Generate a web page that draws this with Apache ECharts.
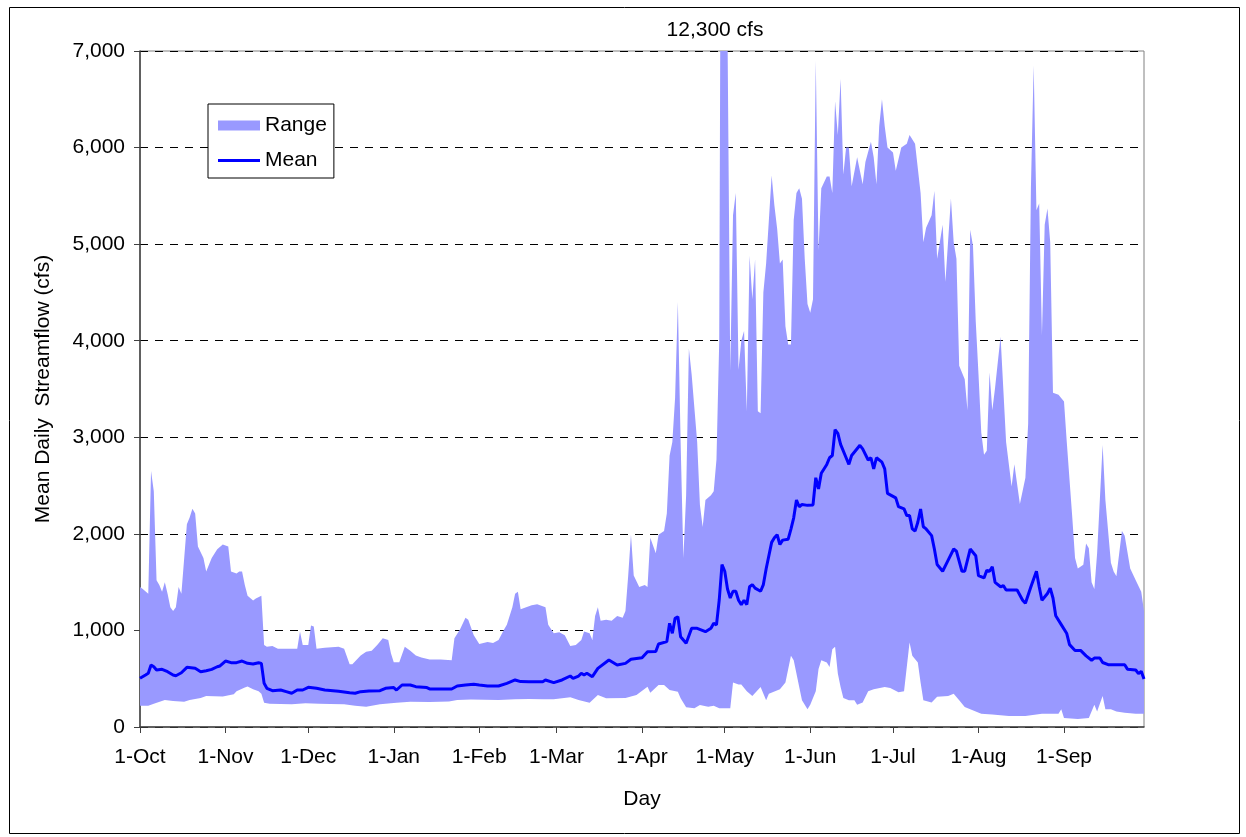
<!DOCTYPE html>
<html>
<head>
<meta charset="utf-8">
<style>
  html, body { margin: 0; padding: 0; background: #fff; }
  #chart { width: 1246px; height: 837px; }
</style>
<script src="https://cdn.jsdelivr.net/npm/echarts@6.0.0/dist/echarts.min.js"></script>
</head>
<body>
<div id="chart"></div>
<script>
// ---- Data (day of water year from 1-Oct, cfs) ----
const monthDays = [0, 31, 61, 92, 123, 151, 182, 212, 243, 273, 304, 335];
const monthLabels = ['1-Oct', '1-Nov', '1-Dec', '1-Jan', '1-Feb', '1-Mar', '1-Apr', '1-May', '1-Jun', '1-Jul', '1-Aug', '1-Sep'];
const yTicks = [0, 1000, 2000, 3000, 4000, 5000, 6000, 7000];

const rangeMax = [[0,1450],[1,1430],[3,1380],[4,2650],[5,2440],[6,1520],[7,1470],[8,1400],[9,1500],[10,1380],[11,1240],[12,1200],[13,1240],[14,1450],[15,1380],[17,2100],[18,2170],[19,2260],[20,2210],[21,1870],[23,1750],[24,1610],[26,1750],[28,1840],[30,1890],[32,1870],[33,1610],[35,1590],[36,1610],[37,1610],[38,1470],[39,1360],[41,1310],[42,1330],[44,1360],[45,850],[46,830],[48,840],[50,810],[57,810],[58,990],[59,850],[61,850],[62,1050],[63,1040],[64,810],[67,820],[72,830],[74,810],[76,650],[77,650],[80,740],[82,780],[84,790],[86,850],[88,920],[90,900],[91,760],[92,670],[94,670],[96,830],[98,790],[100,740],[102,720],[105,700],[109,700],[113,690],[114,920],[116,1010],[118,1130],[119,1110],[121,950],[123,860],[126,880],[128,870],[130,900],[132,1010],[133,1060],[135,1240],[136,1380],[137,1400],[138,1220],[140,1240],[142,1260],[144,1270],[147,1240],[148,1060],[150,970],[152,980],[154,950],[156,840],[158,850],[160,900],[161,990],[163,970],[164,900],[165,1150],[166,1240],[167,1100],[169,1110],[171,1100],[173,1150],[175,1130],[176,1200],[177,1570],[178,1990],[179,1570],[181,1450],[183,1470],[184,1450],[185,1960],[187,1800],[188,1990],[190,2030],[191,2210],[192,2810],[193,2950],[194,3410],[195,4400],[196,2950],[197,1750],[198,2400],[199,3920],[200,3650],[202,2950],[203,2300],[204,2070],[205,2350],[207,2400],[208,2440],[209,2770],[210,4000],[211,12300],[212,9000],[213,7200],[214,3690],[215,5300],[216,5530],[217,3700],[218,4000],[219,4100],[220,3270],[221,4880],[222,4430],[223,4840],[224,3270],[225,3250],[226,4500],[227,4800],[228,5250],[229,5710],[230,5400],[231,5160],[232,4800],[233,4840],[234,4150],[235,3960],[236,3960],[237,5250],[238,5530],[239,5580],[240,5470],[241,4850],[242,4380],[243,4290],[244,4430],[245,6900],[246,4940],[247,5580],[249,5700],[250,5700],[251,5530],[252,6480],[253,6130],[254,6710],[255,5720],[256,6000],[257,6000],[258,5600],[260,5900],[261,5760],[262,5620],[263,5850],[265,6060],[266,5900],[267,5620],[268,6220],[269,6500],[270,6220],[271,6000],[273,5950],[274,5760],[276,6000],[278,6040],[279,6130],[281,6040],[283,5530],[284,5020],[285,5170],[287,5300],[288,5550],[289,4850],[291,5200],[292,4610],[294,5470],[295,5020],[296,4850],[297,3740],[299,3600],[300,3280],[301,5150],[302,4980],[303,4200],[304,3650],[305,3050],[306,2820],[307,2860],[308,3670],[309,3280],[310,3510],[311,3780],[312,4040],[314,2950],[316,2490],[317,2720],[319,2310],[321,2580],[322,3140],[323,5580],[324,6850],[325,5350],[326,5420],[327,4060],[328,5200],[329,5370],[330,5020],[331,3460],[333,3440],[335,3370],[336,2950],[338,2170],[339,1750],[340,1640],[342,1680],[343,1900],[344,1850],[345,1500],[346,1430],[347,1800],[349,2920],[350,2350],[352,1700],[353,1610],[354,1560],[356,2030],[357,1980],[359,1640],[361,1520],[363,1400],[364,1200]];

const rangeMin = [[0,220],[3,220],[5,240],[9,280],[12,270],[16,262],[18,280],[22,300],[24,320],[30,315],[34,340],[35,370],[38,410],[39,420],[41,390],[43,370],[44,345],[45,250],[47,240],[55,235],[60,245],[65,240],[69,238],[74,235],[78,220],[82,210],[87,235],[93,250],[98,262],[105,258],[112,265],[115,280],[120,285],[130,280],[136,287],[141,290],[146,288],[150,287],[156,307],[159,280],[163,252],[166,331],[169,297],[176,300],[180,331],[184,417],[185,355],[188,435],[190,435],[192,383],[195,366],[196,297],[198,204],[201,194],[203,228],[206,210],[208,220],[210,194],[214,194],[215,460],[217,440],[218,440],[220,370],[222,320],[225,415],[227,276],[228,345],[232,390],[234,460],[236,737],[237,690],[239,415],[240,276],[242,184],[243,230],[245,370],[246,600],[247,690],[249,668],[250,622],[251,806],[252,830],[253,553],[254,415],[255,300],[257,276],[259,276],[260,230],[262,253],[264,370],[266,390],[270,415],[272,405],[275,360],[277,370],[279,875],[280,737],[282,668],[283,460],[284,276],[287,253],[289,313],[293,322],[295,345],[297,276],[299,207],[301,184],[305,138],[309,129],[315,115],[321,115],[327,138],[333,138],[334,184],[335,92],[340,83],[344,92],[346,230],[347,161],[349,322],[350,184],[352,184],[354,160],[357,147],[361,138],[364,138]];

const meanFlow = [[0,504],[2,538],[3,556],[4,642],[5,624],[6,590],[8,597],[10,573],[12,538],[13,531],[15,562],[17,618],[20,608],[22,573],[24,583],[26,597],[28,624],[29,632],[31,683],[33,666],[35,666],[37,683],[39,659],[41,652],[43,666],[44,659],[45,452],[46,401],[48,376],[51,383],[53,366],[55,349],[57,383],[59,383],[61,411],[64,401],[67,383],[72,370],[76,355],[78,349],[80,366],[83,373],[87,376],[89,401],[92,408],[93,383],[95,435],[98,435],[100,418],[104,408],[105,394],[110,394],[113,394],[115,425],[118,435],[121,442],[123,435],[126,425],[130,425],[133,452],[136,487],[138,470],[141,469],[146,469],[147,487],[150,459],[153,487],[156,528],[157,504],[159,528],[160,556],[161,539],[162,556],[164,521],[166,607],[170,694],[173,642],[176,659],[178,701],[182,718],[184,780],[187,782],[188,860],[191,884],[192,1074],[193,970],[194,1126],[195,1142],[196,935],[198,867],[200,1022],[202,1022],[205,987],[207,1022],[208,1074],[209,1057],[210,1315],[211,1682],[212,1613],[213,1429],[214,1336],[215,1406],[216,1406],[217,1313],[218,1267],[219,1313],[220,1267],[221,1452],[222,1475],[223,1438],[225,1406],[226,1475],[227,1636],[229,1912],[230,1959],[231,1991],[232,1889],[233,1935],[235,1945],[236,2050],[237,2166],[238,2350],[239,2281],[240,2304],[242,2295],[244,2300],[245,2581],[246,2465],[247,2627],[249,2719],[250,2788],[251,2811],[252,3078],[253,3041],[254,2926],[256,2788],[257,2719],[258,2811],[261,2917],[262,2880],[264,2765],[265,2788],[266,2673],[267,2788],[269,2742],[270,2673],[271,2419],[274,2373],[275,2281],[277,2258],[278,2189],[279,2189],[280,2051],[281,2028],[282,2120],[283,2258],[284,2074],[285,2051],[287,1982],[288,1843],[289,1682],[291,1613],[293,1728],[295,1843],[296,1820],[298,1613],[299,1613],[300,1728],[301,1843],[303,1774],[304,1567],[306,1544],[307,1622],[308,1613],[309,1659],[310,1498],[312,1452],[313,1465],[314,1419],[316,1419],[318,1419],[320,1313],[321,1281],[323,1452],[325,1613],[326,1452],[327,1313],[329,1382],[330,1438],[331,1336],[332,1152],[334,1060],[336,968],[337,853],[339,793],[341,793],[343,737],[345,691],[346,714],[348,714],[349,668],[351,645],[354,645],[357,645],[358,599],[361,590],[362,553],[363,576],[364,498]];

// ---- Chart ----
const FONT = 'Liberation Sans, Arial, sans-serif';
const peakValue = Math.max.apply(null, rangeMax.map(p => p[1]));
const peakLabel = peakValue.toLocaleString('en-US') + ' cfs';

const chart = echarts.init(document.getElementById('chart'), null, { renderer: 'canvas' });
const option = {
  animation: false,
  backgroundColor: '#ffffff',
  textStyle: { fontFamily: FONT },
  grid: { left: 140, right: 102, top: 51, bottom: 110, show: true, borderColor: '#808080', borderWidth: 1, backgroundColor: 'transparent' },
  legend: {
    orient: 'vertical', left: 208, top: 104,
    itemWidth: 42, itemHeight: 10, itemGap: 14,
    padding: [11, 7, 7, 10],
    borderColor: '#000', borderWidth: 1, backgroundColor: '#fff',
    textStyle: { fontSize: 21, color: '#000', fontFamily: FONT },
    data: [
      { name: 'Range', icon: 'rect' },
      { name: 'Mean', icon: 'path://M0,0 L42,0 L42,3 L0,3 Z' }
    ]
  },
  xAxis: {
    type: 'value', min: 0, max: 364,
    name: 'Day', nameLocation: 'middle', nameGap: 62,
    nameTextStyle: { fontSize: 21, color: '#000', fontFamily: FONT },
    axisLine: { show: true, lineStyle: { color: '#404040', width: 1.5 } },
    axisTick: { show: true, customValues: monthDays, length: 6, inside: false, lineStyle: { color: '#404040', width: 1 } },
    axisLabel: {
      customValues: monthDays, fontSize: 21, color: '#000', margin: 20, fontFamily: FONT,
      formatter: v => { const i = monthDays.indexOf(Math.round(v)); return i >= 0 ? monthLabels[i] : ''; }
    },
    splitLine: { show: false }
  },
  yAxis: {
    type: 'value', min: yTicks[0], max: yTicks[yTicks.length - 1], interval: 1000,
    name: 'Mean Daily  Streamflow (cfs)', nameLocation: 'middle', nameGap: 86, nameRotate: 90,
    nameTextStyle: { fontSize: 21, color: '#000', fontFamily: FONT },
    axisLine: { show: true, lineStyle: { color: '#404040', width: 1.5 } },
    axisTick: { show: true, length: 6, inside: false, lineStyle: { color: '#404040', width: 1 } },
    axisLabel: { fontSize: 21, color: '#000', margin: 15, fontFamily: FONT, formatter: v => v.toLocaleString('en-US') },
    splitLine: { show: true, lineStyle: { color: '#000', width: 1, type: [8, 7] } }
  },
  series: [
    {
      name: 'Range', type: 'custom', clip: true, z: 2,
      itemStyle: { color: '#9999FF' },
      encode: { x: 0, y: 1 },
      data: [[0, 0]],
      renderItem: function (params, api) {
        if (params.dataIndex !== 0) return null;
        const pts = [];
        for (let i = 0; i < rangeMax.length; i++) pts.push(api.coord(rangeMax[i]));
        for (let i = rangeMin.length - 1; i >= 0; i--) pts.push(api.coord(rangeMin[i]));
        return { type: 'polygon', shape: { points: pts }, style: { fill: api.visual('color'), stroke: null } };
      }
    },
    {
      name: 'Mean', type: 'line', z: 3, symbol: 'none', showSymbol: false, smooth: false,
      data: meanFlow,
      lineStyle: { color: '#0000FF', width: 3 },
      itemStyle: { color: '#0000FF' }
    }
  ],
  graphic: [
    { type: 'rect', left: 7, top: 5, shape: { width: 1230, height: 826 }, style: { fill: 'none', stroke: '#000', lineWidth: 1 }, silent: true },
    { type: 'text', x: 715, y: 30, style: { text: peakLabel, fontSize: 21, fontFamily: FONT, fill: '#000', align: 'center', verticalAlign: 'middle' }, silent: true }
  ]
};
chart.setOption(option);
</script>
</body>
</html>
